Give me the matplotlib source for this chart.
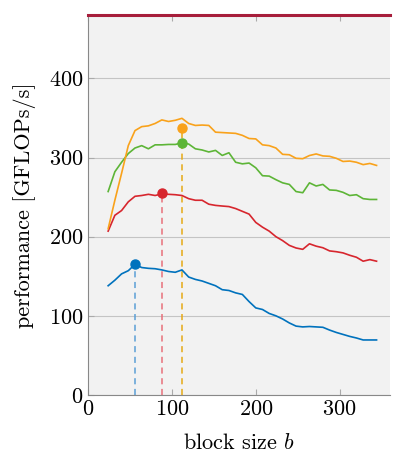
import matplotlib
matplotlib.use("Agg")
import matplotlib.pyplot as plt

plt.rcParams["font.family"] = "cmr10"
plt.rcParams["mathtext.fontset"] = "cm"
plt.rcParams["axes.unicode_minus"] = False
plt.rcParams["axes.formatter.use_mathtext"] = True

# block sizes b = 24, 32, ..., 344
block = list(range(24, 345, 8))

perf_blue = [138, 145, 153, 157, 165, 161, 160, 159.5, 158, 156, 155, 158, 149, 146,
             144, 141, 138, 133, 132, 129, 127, 118, 110, 108, 103, 100, 96, 91, 87,
             86, 86.5, 86, 85.5, 82, 79, 76.5, 74, 72, 69.5, 69.5, 69.5]
perf_red = [207, 227, 233, 244, 251, 252, 253.5, 252, 254, 253.5, 253, 252, 248, 246,
            246, 241, 239.5, 238.7, 238, 235.5, 232, 228.5, 218, 212, 207, 200, 195,
            189, 185.7, 184, 191, 188, 186, 182, 181, 179.5, 176.5, 174, 169, 171, 169]
perf_green = [257, 282, 294, 305, 312, 315, 311, 316, 316, 316.5, 316.5, 318.5, 317,
              311, 309.5, 307, 309, 302.6, 306, 294, 292, 293, 287, 277, 276.5, 272,
              268, 266, 257, 255.5, 268, 264, 266, 259, 258.5, 256, 252, 253, 248, 247, 247]
perf_orange = [210, 246, 280, 315, 334, 339, 340, 343, 347.5, 345.5, 347, 349.5, 343,
               340.5, 341, 340.5, 332, 331.5, 331, 330.5, 328, 324, 323.5, 316, 315,
               312, 304, 303.5, 299, 298.5, 302.5, 304.5, 302, 301.5, 299, 295, 295.5,
               294, 291, 292.5, 290]

# chosen block sizes and the performance marked there
pick_b = [56, 88, 112, 112]
pick_perf = [166, 255, 318, 337]
peak = 480

colors = ["#0072BD", "#D7262E", "#5DB537", "#F9A21B"]
series = [perf_blue, perf_red, perf_green, perf_orange]

fig = plt.figure(figsize=(3.94, 4.58), dpi=100)
ax = fig.add_axes([0.2234, 0.1376, 0.7664, 0.8296])
ax.set_facecolor("#f2f2f2")

for ys, c in zip(series, colors):
    ax.plot(block, ys, color=c, lw=1.2, zorder=3)

dash_colors = ["#5B9FD6", "#E8707A", None, "#E6A915"]
for b, p, c in zip(pick_b, pick_perf, dash_colors):
    if c is not None:
        ax.plot([b, b], [0, p], ls=(0, (4, 3)), color=c, lw=1.1, zorder=2)
for b, p, c in zip(pick_b, pick_perf, colors):
    ax.plot(b, p, "o", color=c, ms=6.5, zorder=4)

ax.axhline(peak, color="#A71E3B", lw=2.2, zorder=5, clip_on=False)

ax.set_xlim(0, 360)
ax.set_ylim(0, 480)
ax.set_xticks([0, 100, 200, 300])
ax.set_yticks([0, 100, 200, 300, 400])
ax.yaxis.grid(True, color="#c4c4c4", lw=0.8)
ax.set_axisbelow(True)
ax.tick_params(direction="in", top=True, right=False, labelsize=16, color="#aaaaaa",
               length=4)
for s in ["left", "bottom"]:
    ax.spines[s].set_color("#888888")
for s in ["right", "top"]:
    ax.spines[s].set_visible(False)

ax.set_xlabel("block size $b$", fontsize=16, labelpad=10)
ax.set_ylabel("performance [GFLOPs/s]", fontsize=16, labelpad=9)

fig.savefig("out.png", dpi=100)
